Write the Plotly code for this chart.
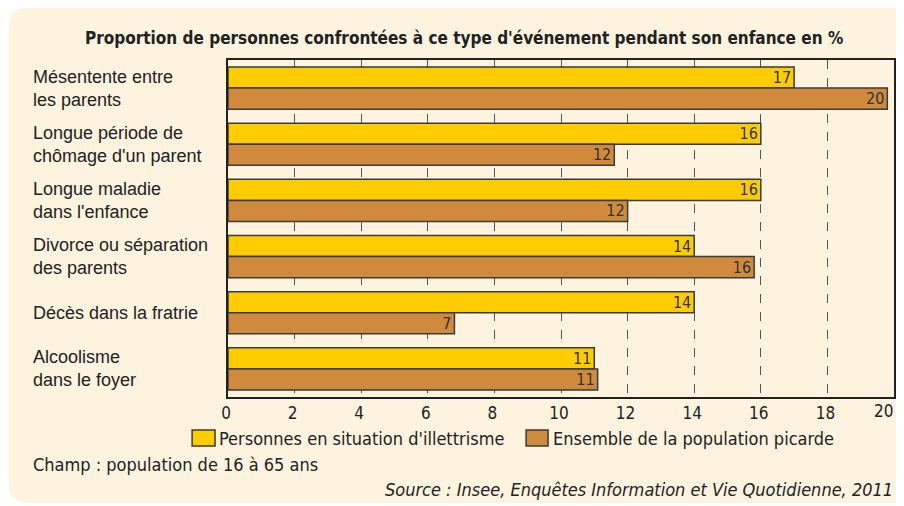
import plotly.graph_objects as go

# Données
categories = [
    "Mésentente entre<br>les parents",
    "Longue période de<br>chômage d'un parent",
    "Longue maladie<br>dans l'enfance",
    "Divorce ou séparation<br>des parents",
    "Décès dans la fratrie",
    "Alcoolisme<br>dans le foyer",
]
illettrisme = [17.0, 16.0, 16.0, 14.0, 14.0, 11.0]
picardie = [19.8, 11.6, 12.0, 15.8, 6.8, 11.1]
x_ticks = [0, 2, 4, 6, 8, 10, 12, 14, 16, 18, 20]
series_names = ["Personnes en situation d'illettrisme", "Ensemble de la population picarde"]

# Mise en page : coordonnées de la page (la figure est décalée de 8 px par la marge du body)
OFF = 8
W, H = 888, 498
L, R, T, B = 228, 896, 60, 397

def px(x):
    return (x - L) / (R - L)

def py(y):
    return (B - y) / (B - T)

NARROW = "DejaVu Sans Condensed, Liberation Sans Narrow, sans-serif"
REGULAR = "Liberation Sans, Arial, sans-serif"
CREAM = "#FDF3DE"
YELLOW = "#FFCC00"
BROWN = "#CF8A3D"
EDGE = "#3a3a3a"
TXT = "#222"

fig = go.Figure()
for vals, color, name in [(illettrisme, YELLOW, series_names[0]), (picardie, BROWN, series_names[1])]:
    fig.add_trace(go.Bar(
        y=categories, x=vals, orientation="h", name=name,
        marker=dict(color=color, line=dict(color=EDGE, width=1.5)),
        texttemplate="%{x:.0f}", textposition="inside", insidetextanchor="end",
        textangle=0, constraintext="none",
        textfont=dict(family=NARROW, size=16, color="#333"),
    ))

# Fond crème aux coins arrondis
r = 20
x0, x1, y0, y1 = 8, 940, 8, 503
path = (
    f"M {px(x0 + r)} {py(y0)} L {px(x1)} {py(y0)} L {px(x1)} {py(y1)} "
    f"L {px(x0 + r)} {py(y1)} "
    f"Q {px(x0)} {py(y1)} {px(x0)} {py(y1 - r)} L {px(x0)} {py(y0 + r)} "
    f"Q {px(x0)} {py(y0)} {px(x0 + r)} {py(y0)} Z"
)
fig.add_shape(type="path", path=path, xref="paper", yref="paper",
              fillcolor=CREAM, line=dict(width=0), layer="below")

# Libellés des catégories, alignés à gauche
for c in categories:
    fig.add_annotation(x=px(30), y=c, xref="paper", yref="y", text=c,
                       showarrow=False, xanchor="left", yanchor="middle", align="left",
                       font=dict(family=REGULAR, size=18, color=TXT))

fig.add_annotation(x=px(465), y=py(38), xref="paper", yref="paper",
                   text="<b>Proportion de personnes confrontées à ce type d'événement pendant son enfance en %</b>",
                   showarrow=False, xanchor="center", yanchor="middle",
                   font=dict(family=NARROW, size=17, color=TXT))
fig.add_annotation(x=px(30), y=py(464), xref="paper", yref="paper",
                   text="Champ : population de 16 à 65 ans",
                   showarrow=False, xanchor="left", yanchor="middle",
                   font=dict(family=NARROW, size=18, color=TXT))
fig.add_annotation(x=px(897), y=py(489), xref="paper", yref="paper",
                   text="<i>Source : Insee, Enquêtes Information et Vie Quotidienne, 2011</i>",
                   showarrow=False, xanchor="right", yanchor="middle",
                   font=dict(family=NARROW, size=18, color=TXT))

# Dernière graduation (20) : placée contre le bord droit pour ne pas être coupée
fig.add_annotation(x=x_ticks[-1], y=py(411), xref="x", yref="paper", text=str(x_ticks[-1]),
                   showarrow=False, xanchor="right", yanchor="middle", borderpad=0,
                   font=dict(family=NARROW, size=17, color=TXT))

# Légende
legend_items = [(192, 215, 217, YELLOW, series_names[0]), (527, 549, 552, BROWN, series_names[1])]
for sx0, sx1, tx, color, name in legend_items:
    fig.add_shape(type="rect", xref="paper", yref="paper",
                  x0=px(sx0), x1=px(sx1), y0=py(430), y1=py(446),
                  fillcolor=color, line=dict(color=EDGE, width=1.5))
    fig.add_annotation(x=px(tx), y=py(438), xref="paper", yref="paper", text=name,
                       showarrow=False, xanchor="left", yanchor="middle",
                       font=dict(family=NARROW, size=18, color=TXT))

fig.update_layout(
    width=W, height=H,
    margin=dict(l=L - OFF, r=W - (R - OFF), t=T - OFF, b=H - (B - OFF), pad=0),
    paper_bgcolor="white", plot_bgcolor=CREAM,
    barmode="group", bargap=0.25, bargroupgap=0,
    showlegend=False,
    xaxis=dict(range=[0, 20], tickvals=x_ticks[:-1], showgrid=True, gridcolor="#555",
               griddash="dash", gridwidth=1, zeroline=False,
               showline=True, linecolor=TXT, linewidth=1.5, mirror=True,
               ticks="", ticklabelshift=-2,
               tickfont=dict(family=NARROW, size=17, color=TXT)),
    yaxis=dict(autorange="reversed", showticklabels=False, showgrid=False,
               showline=True, linecolor=TXT, linewidth=1.5, mirror=True, ticks=""),
)

fig.write_html("out.html")
